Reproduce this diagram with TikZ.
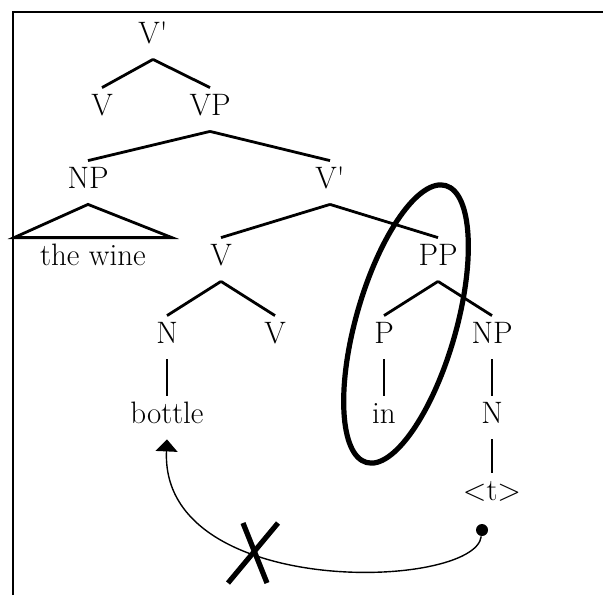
\documentclass[tikz,border=0pt]{standalone}
\usepackage{tikz}
\usetikzlibrary{
  arrows.meta,
  positioning,
  calc
}
\tikzset{
  cat/.style={
    font=\fontsize{15.5}{18}\selectfont, anchor=base,
    text height=10.5pt, text depth=5pt, inner ysep=3pt, inner xsep=2pt
  },
  branch/.style={line width=1.4pt},
  roof/.style={line width=1.4pt, line join=miter},
  focus/.style={line width=2.6pt},
  movement/.style={line width=0.7pt, -{Triangle[length=6pt, width=11pt]}},
  tracedot/.style={circle, fill, inner sep=0pt, minimum size=6pt},
  blocked/.style={line width=2.6pt},
  frame/.style={line width=1.4pt}
}

\begin{document}
\begin{tikzpicture}[x=0.5pt, y=0.5pt]
  \useasboundingbox (0,0) rectangle (603,-595);
  \draw[frame] (13,-595) -- (13,-12) -- (603,-12);

  % upper part
  \node[cat] (vbar) at (153,-43) {V\textquotesingle};
  \node[cat] (v1) at (102,-115) {V};
  \node[cat] (vp) at (210,-115) {VP};
  \node[cat] (np1) at (88,-188) {NP};
  \node[cat] (vbar2) at (330,-188) {V\textquotesingle};
  \node[cat, minimum width=78.5pt] (wine) at (93,-265) {the wine};

  % compound verb and PP
  \node[cat] (v2) at (221,-265) {V};
  \node[cat] (pp) at (438,-265) {PP};
  \node[cat] (n1) at (167,-343) {N};
  \node[cat] (v3) at (275,-343) {V};
  \node[cat] (p) at (384,-343) {P};
  \node[cat] (np2) at (492,-343) {NP};
  \node[cat] (bottle) at (167,-423) {bottle};
  \node[cat] (in) at (384,-423) {in};
  \node[cat] (n2) at (492,-423) {N};
  \node[cat] (trace) at (492,-500) {\textless t\textgreater};
  \node[tracedot] (dot) at (482,-530) {};
  \coordinate (cross) at (254,-553);

  \draw[branch] (vbar.south) -- (v1.north);
  \draw[branch] (vbar.south) -- (vp.north);
  \draw[branch] (vp.south) -- (np1.north);
  \draw[branch] (vp.south) -- (vbar2.north);
  \draw[roof] (np1.south) -- (wine.north west) -- (wine.north east) -- cycle;
  \draw[branch] (vbar2.south) -- (v2.north);
  \draw[branch] (vbar2.south) -- (pp.north);
  \draw[branch] (v2.south) -- (n1.north);
  \draw[branch] (v2.south) -- (v3.north);
  \draw[branch] (pp.south) -- (p.north);
  \draw[branch] (pp.south) -- (np2.north);
  \draw[branch] (n1.south) -- (bottle.north);
  \draw[branch] (p.south) -- (in.north);
  \draw[branch] (np2.south) -- (n2.north);
  \draw[branch] (n2.south) -- (trace.north);

  % P alone is circled
  \draw[focus, rotate around={74:(406,-324)}] (406,-324) ellipse (144 and 50);

  % illicit movement
  \draw[movement] (dot) .. controls (475,-590) and (160,-600) .. (bottle.south);
  \draw[blocked] ($(cross)+(-11,30)$) -- ($(cross)+(13,-30)$);
  \draw[blocked] ($(cross)+(24,30)$) -- ($(cross)+(-26,-30)$);
\end{tikzpicture}
\end{document}
